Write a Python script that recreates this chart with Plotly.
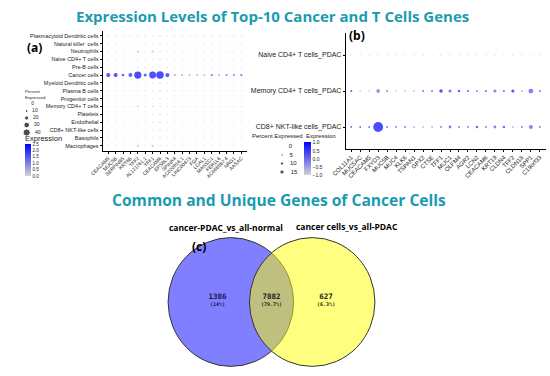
import plotly.graph_objects as go

W, H = 550, 376
def px(x): return x / W
def py(y): return 1 - y / H

# ---------------- DATA ----------------
# Panel (a)
cell_types_a = ["Plasmacytoid Dendritic cells", "Natural killer  cells", "Neutrophils",
                "Naive CD4+ T cells", "Pre-B cells", "Cancer cells", "Myeloid Dendritic cells",
                "Plasma B cells", "Progenitor cells", "Memory CD4+ T cells", "Platelets",
                "Endothelial", "CD8+ NKT-like cells", "Basophils", "Macrophages"]
genes_a = ["CEACAM5", "MUC5B", "SERPINB5", "KRT6B", "TFF2", "AL121761.1", "TFF1", "CEACAM6",
           "EPS8L3", "SPINK4", "AC020916.1", "LINC00473", "FGA", "LCAL1", "MANSC1", "FER1L6",
           "AC068587.4", "NRG1", "AASAC"]
z0 = [0] * 19
p1 = [1] * 19
pct_a = [
    p1, p1,
    [1, 1, 1, 1, 5, 1, 5, 1, 1, 1, 1, 1, 1, 1, 1, 1, 1, 1, 1],
    p1, p1,
    [20, 20, 10, 18, 40, 12, 38, 42, 20, 6, 6, 4, 4, 4, 7, 4, 6, 6, 7],
    p1, p1, p1,
    [1, 1, 1, 1, 4, 1, 2, 1, 1, 1, 1, 1, 1, 1, 1, 1, 1, 1, 1],
    p1, p1, p1, p1,
    [1, 1, 1, 1, 5, 1, 5, 1, 1, 1, 1, 1, 1, 1, 1, 1, 1, 1, 1],
]
expr_a = [
    z0, z0,
    [0, 0, 0, 0, 0.4, 0, 0.4, 0, 0, 0, 0, 0, 0, 0, 0, 0, 0, 0, 0],
    z0, z0,
    [2.2, 2.3, 2.0, 2.2, 2.5, 2.0, 2.4, 2.5, 2.2, 1.0, 0.8, 0.8, 0.8, 0.9, 1.6, 1.0, 1.5, 1.6, 1.7],
    z0, z0, z0,
    [0, 0, 0, 0, 0.3, 0, 0.2, 0, 0, 0, 0, 0, 0, 0, 0, 0, 0, 0, 0],
    z0, z0, z0, z0,
    [0, 0, 0, 0, 0.4, 0, 0.4, 0, 0, 0, 0, 0, 0, 0, 0, 0, 0, 0, 0],
]
legend_pct_a = [0, 10, 20, 30, 40]
cbar_ticks_a = [0.0, 0.5, 1.0, 1.5, 2.0, 2.5]

# Panel (b)
cell_types_b = ["Naive CD4+ T cells_PDAC", "Memory CD4+ T cells_PDAC", "CD8+ NKT-like cells_PDAC"]
genes_b = ["COL11A1", "MUC5AC", "CEACAM5", "FXYD3", "MUC5B", "MUC4", "KLK6", "TSPAN1", "GPX2",
           "CTSE", "TFF1", "MUC1", "OLFM4", "AGR2", "LCN2", "CEACAM6", "KRT19", "CLDN4", "TFF2",
           "CLDN18", "SPP1", "C19orf33"]
pct_b = [
    [0.5] * 22,
    [3, 1, 1, 8, 2, 1, 1, 1, 2, 2, 7, 6, 4, 3, 2, 3, 6, 3, 6, 1, 11, 2],
    [2, 2, 2, 27, 2, 2, 2, 1, 1, 1, 2, 5, 2, 2, 4, 2, 5, 4, 1, 2, 9, 2],
]
expr_b = [
    [-1] * 22,
    [0.6, -0.5, -0.5, 0.0, 0.2, -0.3, -0.3, 0.0, 0.5, 0.6, 0.9, 0.3, 0.7, 0.6, 0.4, 0.5, 0.2, 0.5, 0.9, 0.2, 0.3, 0.6],
    [0.6, 0.7, 0.5, 1.0, 0.5, 0.4, 0.4, 0.2, 0.1, 0.3, 0.4, 0.3, 0.4, 0.4, 0.6, 0.4, 0.3, 0.6, 0.2, 0.4, 0.2, 0.5],
]
legend_pct_b = [0, 5, 10, 15]
cbar_ticks_b = [-1.0, -0.5, 0.0, 0.5, 1.0]

# Panel (c) Venn
set_names = ["cancer-PDAC_vs_all-normal", "cancer cells_vs_all-PDAC"]
venn_counts = [1386, 7882, 627]
venn_pcts = ["14%", "79.7%", "6.3%"]

# ---------------- STYLE ----------------
TEAL = "#1b9bb0"
AXFONT = "Liberation Sans, Arial, sans-serif"
TFONT = "Open Sans, sans-serif"
cscale = [[0, "#d3d3d3"], [1, "#0000ff"]]

def size_a(p): return 1.2 + p * 0.15
def size_b(p): return 1.2 + p * 0.32

fig = go.Figure()

# Panel (a) dots
xa, ya, sa, ca = [], [], [], []
for i, row in enumerate(cell_types_a):
    for j, g in enumerate(genes_a):
        xa.append(j); ya.append(i)
        sa.append(size_a(pct_a[i][j])); ca.append(expr_a[i][j])
fig.add_trace(go.Scatter(x=xa, y=ya, mode="markers", xaxis="x", yaxis="y",
                         marker=dict(size=sa, color=ca, coloraxis="coloraxis", line=dict(width=0)),
                         showlegend=False))

# Panel (b) dots
xb, yb, sb, cb = [], [], [], []
for i, row in enumerate(cell_types_b):
    for j, g in enumerate(genes_b):
        xb.append(j); yb.append(i)
        sb.append(size_b(pct_b[i][j])); cb.append(expr_b[i][j])
fig.add_trace(go.Scatter(x=xb, y=yb, mode="markers", xaxis="x2", yaxis="y2",
                         marker=dict(size=sb, color=cb, coloraxis="coloraxis2", line=dict(width=0)),
                         showlegend=False))

# Size legends (on a pixel-like helper axis)
leg_a_y = [103.5, 111, 118, 125, 132.5]
fig.add_trace(go.Scatter(x=[13] * len(legend_pct_a), y=leg_a_y, mode="markers+text",
                         xaxis="x4", yaxis="y4",
                         marker=dict(size=[size_a(p) for p in legend_pct_a], color="black"),
                         text=["  " + str(p) for p in legend_pct_a], textposition="middle right",
                         textfont=dict(size=5, family=AXFONT, color="#222"), showlegend=False))
leg_b_y = [146.5, 155, 163.5, 172]
fig.add_trace(go.Scatter(x=[275] * len(legend_pct_b), y=leg_b_y, mode="markers+text",
                         xaxis="x4", yaxis="y4",
                         marker=dict(size=[size_b(p) * 0.6 + 0.6 for p in legend_pct_b],
                                     color=["#d3d3d3", "black", "black", "black"]),
                         text=["   " + str(p) for p in legend_pct_b], textposition="middle right",
                         textfont=dict(size=6, family=AXFONT, color="#222"), showlegend=False))

# Venn text
r = 1.0
cx = [-0.648, 0.648]
label_x = [-0.86, 0.0, 0.87]
fig.add_trace(go.Scatter(x=label_x, y=[0.08] * 3, mode="text", xaxis="x3", yaxis="y3",
                         text=["<b>%d</b>" % c for c in venn_counts],
                         textfont=dict(size=7.5, family="DejaVu Sans Mono, monospace",
                                       color=["#1a1a50", "#222222", "#222222"]),
                         showlegend=False))
fig.add_trace(go.Scatter(x=label_x, y=[-0.04] * 3, mode="text", xaxis="x3", yaxis="y3",
                         text=["<b>(%s)</b>" % p for p in venn_pcts],
                         textfont=dict(size=5, family="DejaVu Sans Mono, monospace",
                                       color=["#1a1a50", "#222222", "#222222"]),
                         showlegend=False))

shapes = [
    dict(type="circle", xref="x3", yref="y3", x0=cx[0] - r, x1=cx[0] + r, y0=-r, y1=r,
         fillcolor="rgba(0,0,255,0.5)", line=dict(color="#333333", width=1), layer="below"),
    dict(type="circle", xref="x3", yref="y3", x0=cx[1] - r, x1=cx[1] + r, y0=-r, y1=r,
         fillcolor="rgba(255,255,0,0.5)", line=dict(color="#333333", width=1), layer="below"),
]

ann = []
def A(text, x, y, size, color="black", family=TFONT, xanchor="center", yanchor="middle"):
    ann.append(dict(text=text, x=px(x), y=py(y), xref="paper", yref="paper", showarrow=False,
                    xanchor=xanchor, yanchor=yanchor,
                    font=dict(size=size, color=color, family=family)))

A("<b>Expression Levels of Top-10 Cancer and T Cells Genes</b>", 265, 16, 15, TEAL)
A("<b>Common and Unique Genes of Cancer Cells</b>", 272, 200, 15.6, TEAL)
A("<b>(a)</b>", 21, 48, 12)
A("<b>(b)</b>", 352, 35, 12)
A("<b>(c)</b>", 190, 246, 12)
A("Percent", 9, 91.5, 4.3, "#222", AXFONT, "left")
A("Expressed", 9, 97, 4.3, "#222", AXFONT, "left")
A("Expression", 9, 138, 7.5, "#222", AXFONT, "left")
A("Percent Expressed", 242, 136.5, 6, "#222", AXFONT, "left")
A("Expression", 298, 136.5, 6, "#222", AXFONT, "left")
A("<b>" + set_names[0] + "</b>", 218, 227, 8.5)
A("<b>" + set_names[1] + "</b>", 342, 226, 8.5)

axcommon = dict(showgrid=False, zeroline=False, showline=True, linecolor="black", linewidth=1,
                ticks="outside", ticklen=2, tickcolor="black", tickwidth=0.8)

unit = 64.4
fig.update_layout(
    width=W, height=H, margin=dict(l=0, r=0, t=0, b=0),
    paper_bgcolor="white", plot_bgcolor="rgba(0,0,0,0)",
    xaxis=dict(domain=[px(91), px(239)], range=[-0.75, 18.75], tickmode="array",
               tickvals=list(range(len(genes_a))), ticktext=genes_a, tickangle=-45,
               tickfont=dict(size=5, family=AXFONT, color="#222"), anchor="y", **axcommon),
    yaxis=dict(domain=[py(150.5), py(31)], range=[14.6, -0.6], tickmode="array",
               tickvals=list(range(len(cell_types_a))), ticktext=cell_types_a,
               tickfont=dict(size=5.5, family=AXFONT, color="#222"), anchor="x", **axcommon),
    xaxis2=dict(domain=[px(340.5), px(546)], range=[-0.6, 21.7], tickmode="array",
                tickvals=list(range(len(genes_b))), ticktext=genes_b, tickangle=-45,
                tickfont=dict(size=6, family=AXFONT, color="#222"), anchor="y2", **axcommon),
    yaxis2=dict(domain=[py(148.6), py(33.4)], range=[2.6, -0.6], tickmode="array",
                tickvals=list(range(len(cell_types_b))), ticktext=cell_types_b,
                tickfont=dict(size=7, family=AXFONT, color="#222"), anchor="x2", **axcommon),
    xaxis3=dict(domain=[px(150), px(380)], range=[-(264.25 - 150) / unit, (380 - 264.25) / unit],
                visible=False, anchor="y3"),
    yaxis3=dict(domain=[py(372), py(232)], range=[-70 / unit, 70 / unit], visible=False, anchor="x3"),
    xaxis4=dict(domain=[0, 1], range=[0, W], visible=False, anchor="y4"),
    yaxis4=dict(domain=[0, 1], range=[H, 0], visible=False, anchor="x4"),
    coloraxis=dict(colorscale=cscale, cmin=0, cmax=2.5,
                   colorbar=dict(x=px(11), xanchor="left", y=py(144), yanchor="top",
                                 lenmode="pixels", len=32, thicknessmode="pixels", thickness=6,
                                 xpad=0, ypad=0, outlinewidth=0, ticks="",
                                 tickvals=cbar_ticks_a, ticktext=["%.1f" % v for v in cbar_ticks_a],
                                 tickfont=dict(size=4.5, family=AXFONT, color="#222"))),
    coloraxis2=dict(colorscale=cscale, cmin=-1, cmax=1,
                    colorbar=dict(x=px(298), xanchor="left", y=py(142.5), yanchor="top",
                                  lenmode="pixels", len=33, thicknessmode="pixels", thickness=7,
                                  xpad=0, ypad=0, outlinewidth=0, ticks="",
                                  tickvals=cbar_ticks_b,
                                  ticktext=["%.1f" % v if v >= 0 else "\u2212%.1f" % abs(v) for v in cbar_ticks_b],
                                  tickfont=dict(size=5, family=AXFONT, color="#222"))),
    shapes=shapes, annotations=ann,
)

fig.write_html("out.html", config={"displayModeBar": False},
               post_script="document.body.style.margin='0px';")
